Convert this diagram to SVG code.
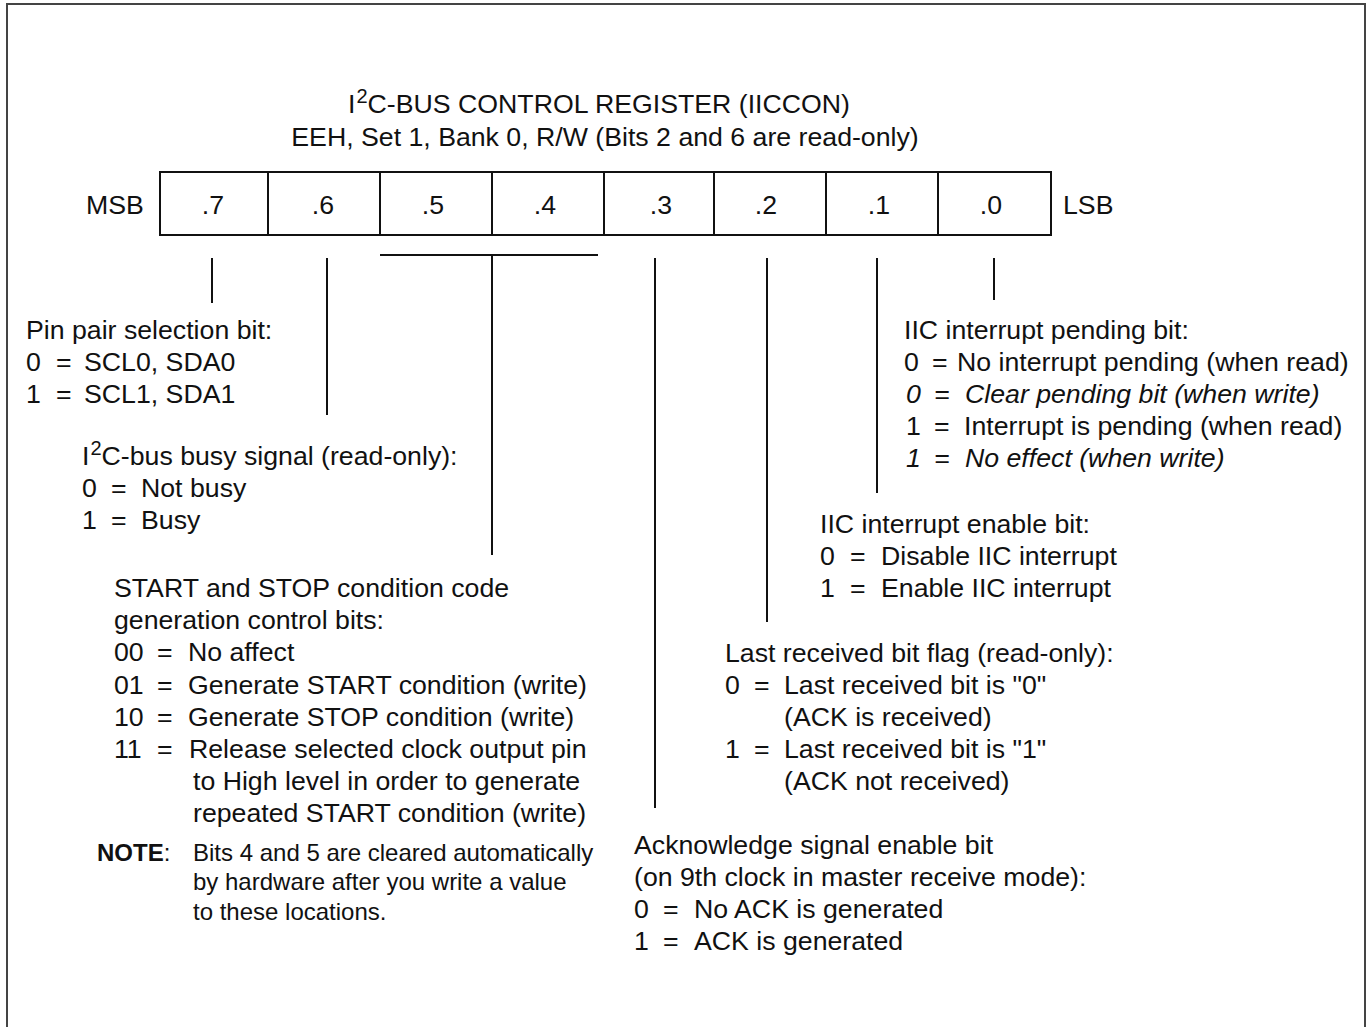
<svg xmlns="http://www.w3.org/2000/svg" width="1369" height="1027" viewBox="0 0 1369 1027">
  <style>
    text { font-family: "Liberation Sans", Arial, Helvetica, sans-serif; font-size: 26.7px; fill: #111; }
    .it { font-style: italic; }
    .note { font-size: 24px; }
    .bold { font-weight: bold; }
    .sup { font-size: 20px; }
    .ln { stroke: #111; stroke-width: 2; fill: none; }
    .frame { stroke: #444; stroke-width: 2; fill: none; }
    .bit { text-anchor: middle; }
  </style>

  <rect width="1369" height="1027" fill="#fff"/>
  <!-- page frame (open at the bottom) -->
  <path class="frame" d="M7,1027 V4 H1365 V1027"/>

  <!-- title -->
  <g id="title">
    <text x="599" y="113" text-anchor="middle">I<tspan class="sup" dy="-10" dx="1">2</tspan><tspan dy="10">C-BUS CONTROL REGISTER (IICCON)</tspan></text>
    <text x="605" y="146" text-anchor="middle">EEH, Set 1, Bank 0, R/W (Bits 2 and 6 are read-only)</text>
  </g>

  <!-- register cells -->
  <g id="register">
    <text x="86" y="214">MSB</text>
    <text x="1063" y="214">LSB</text>
    <rect class="ln" x="160" y="172" width="891" height="63"/>
    <path class="ln" d="M268,172 V235 M380,172 V235 M492,172 V235 M604,172 V235 M714,172 V235 M826,172 V235 M938,172 V235"/>
    <text class="bit" x="213" y="214">.7</text>
    <text class="bit" x="323" y="214">.6</text>
    <text class="bit" x="433" y="214">.5</text>
    <text class="bit" x="545" y="214">.4</text>
    <text class="bit" x="661" y="214">.3</text>
    <text class="bit" x="766" y="214">.2</text>
    <text class="bit" x="879" y="214">.1</text>
    <text class="bit" x="991" y="214">.0</text>
  </g>

  <!-- leader lines from each bit to its description -->
  <g id="connectors">
    <path class="ln" d="M212,258 V303"/>
    <path class="ln" d="M327,258 V415"/>
    <path class="ln" d="M380,255 H598 M492,255 V555"/>
    <path class="ln" d="M655,258 V808"/>
    <path class="ln" d="M767,258 V622"/>
    <path class="ln" d="M877,258 V493"/>
    <path class="ln" d="M994,258 V300"/>
  </g>

  <!-- bit 7 -->
  <g id="bit7">
    <text x="26" y="339">Pin pair selection bit:</text>
    <text y="371"><tspan x="26">0</tspan><tspan x="56">=</tspan><tspan x="84">SCL0, SDA0</tspan></text>
    <text y="403"><tspan x="26">1</tspan><tspan x="56">=</tspan><tspan x="84">SCL1, SDA1</tspan></text>
  </g>

  <!-- bit 6 -->
  <g id="bit6">
    <text x="82" y="465">I<tspan class="sup" dy="-10" dx="1">2</tspan><tspan dy="10">C-bus busy signal (read-only):</tspan></text>
    <text y="497"><tspan x="82">0</tspan><tspan x="111">=</tspan><tspan x="141">Not busy</tspan></text>
    <text y="529"><tspan x="82">1</tspan><tspan x="111">=</tspan><tspan x="141">Busy</tspan></text>
  </g>

  <!-- bits 5 and 4 -->
  <g id="bits54">
    <text x="114" y="597">START and STOP condition code</text>
    <text x="114" y="629">generation control bits:</text>
    <text y="661"><tspan x="114">00</tspan><tspan x="157">=</tspan><tspan x="188">No affect</tspan></text>
    <text y="694"><tspan x="114">01</tspan><tspan x="157">=</tspan><tspan x="188">Generate START condition (write)</tspan></text>
    <text y="726"><tspan x="114">10</tspan><tspan x="157">=</tspan><tspan x="188">Generate STOP condition (write)</tspan></text>
    <text y="758"><tspan x="114">11</tspan><tspan x="157">=</tspan><tspan x="189">Release selected clock output pin</tspan></text>
    <text x="193" y="790">to High level in order to generate</text>
    <text x="193" y="822">repeated START condition (write)</text>
    <text class="note" y="861"><tspan class="bold" x="97">NOTE</tspan><tspan>:</tspan><tspan x="193">Bits 4 and 5 are cleared automatically</tspan></text>
    <text class="note" x="193" y="890">by hardware after you write a value</text>
    <text class="note" x="193" y="920">to these locations.</text>
  </g>

  <!-- bit 3 -->
  <g id="bit3">
    <text x="634" y="854">Acknowledge signal enable bit</text>
    <text x="634" y="886">(on 9th clock in master receive mode):</text>
    <text y="918"><tspan x="634">0</tspan><tspan x="663">=</tspan><tspan x="694">No ACK is generated</tspan></text>
    <text y="950"><tspan x="634">1</tspan><tspan x="663">=</tspan><tspan x="694">ACK is generated</tspan></text>
  </g>

  <!-- bit 2 -->
  <g id="bit2">
    <text x="725" y="662">Last received bit flag (read-only):</text>
    <text y="694"><tspan x="725">0</tspan><tspan x="754">=</tspan><tspan x="784">Last received bit is "0"</tspan></text>
    <text x="784" y="726">(ACK is received)</text>
    <text y="758"><tspan x="725">1</tspan><tspan x="754">=</tspan><tspan x="784">Last received bit is "1"</tspan></text>
    <text x="784" y="790">(ACK not received)</text>
  </g>

  <!-- bit 1 -->
  <g id="bit1">
    <text x="820" y="533">IIC interrupt enable bit:</text>
    <text y="565"><tspan x="820">0</tspan><tspan x="850">=</tspan><tspan x="881">Disable IIC interrupt</tspan></text>
    <text y="597"><tspan x="820">1</tspan><tspan x="850">=</tspan><tspan x="881">Enable IIC interrupt</tspan></text>
  </g>

  <!-- bit 0 -->
  <g id="bit0">
    <text x="904" y="339">IIC interrupt pending bit:</text>
    <text y="371"><tspan x="904">0</tspan><tspan x="932">=</tspan><tspan x="957">No interrupt pending (when read)</tspan></text>
    <text class="it" y="403"><tspan x="906">0</tspan><tspan x="934">=</tspan><tspan x="965">Clear pending bit (when write)</tspan></text>
    <text y="435"><tspan x="906">1</tspan><tspan x="934">=</tspan><tspan x="964">Interrupt is pending (when read)</tspan></text>
    <text class="it" y="467"><tspan x="906">1</tspan><tspan x="934">=</tspan><tspan x="965">No effect (when write)</tspan></text>
  </g>
</svg>
